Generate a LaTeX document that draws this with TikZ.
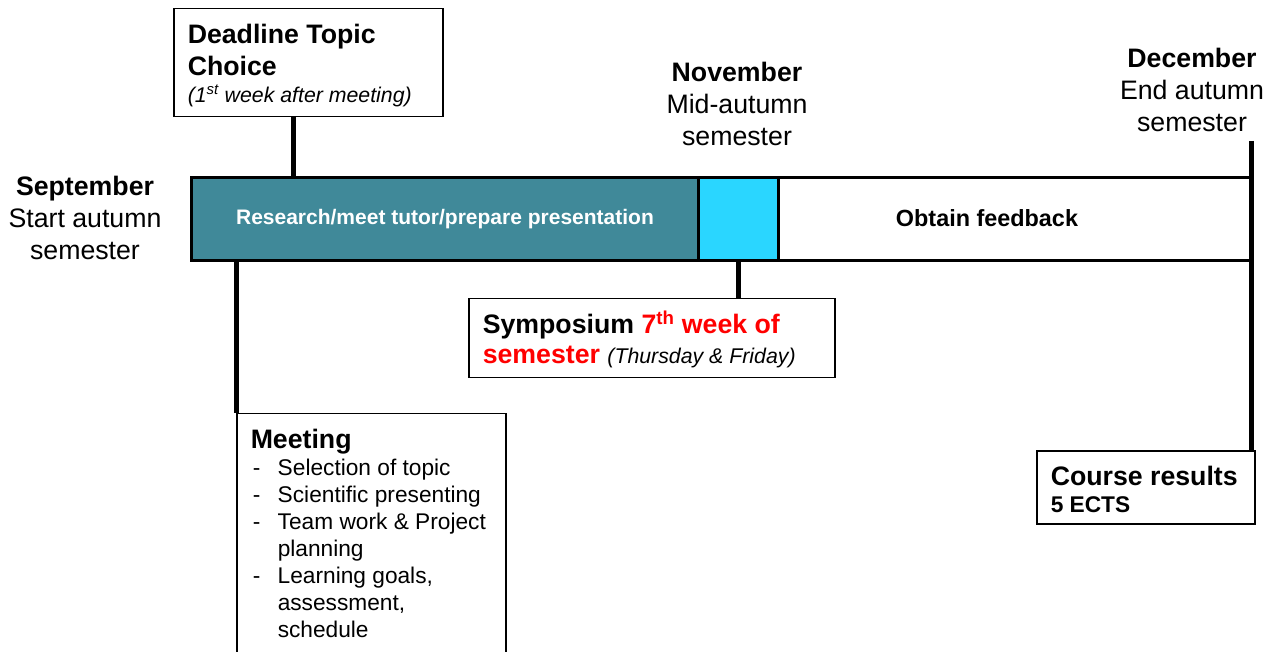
\documentclass[tikz,border=0pt]{standalone}
\usepackage{fontspec}
\setmainfont{Liberation Sans}
\definecolor{teal1}{RGB}{64,137,153}
\definecolor{cyan1}{RGB}{42,214,255}
\definecolor{red1}{RGB}{255,0,0}
\begin{document}
\begin{tikzpicture}[x=1pt,y=-1pt,
  box/.style={draw=black, line width=1.5pt, fill=white, anchor=north west, inner xsep=14pt},
  seg/.style={draw=black, line width=3pt, anchor=north west, minimum height=83pt, inner sep=0pt},
  conn/.style={line width=5pt},
  month/.style={align=center, inner sep=0pt, font=\fontsize{26.7}{32}\selectfont},
  bartext/.style={inner sep=0pt, font=\bfseries}
]
\useasboundingbox (0,0) rectangle (1278,652);

% bar segments
\node[seg, fill=teal1, minimum width=507pt] (research) at (190,176) {};
\node[seg, fill=cyan1, minimum width=80pt] (sym) at (697,176) {};
\node[seg, fill=white, minimum width=474pt] (feedback) at (777,176) {};
\node[bartext, text=white] (restext) at (research.center) {\fontsize{21}{25}\selectfont Research/meet tutor/prepare presentation};
\node[bartext] (fbtext) at (987,218) {\fontsize{23.4}{27}\selectfont Obtain feedback};

% month labels
\node[month] (sept) at (85,218) {\textbf{September}\\Start autumn\\semester};
\node[month] (nov) at (737,104) {\textbf{November}\\Mid-autumn\\semester};
\node[month] (dec) at (1192,90) {\textbf{December}\\End autumn\\semester};

% boxes
\node[box, inner ysep=15pt] (deadline) at (173,8)
  {\parbox[t][78pt][t]{241pt}{\raggedright\fontsize{26.7}{32}\selectfont
   \textbf{Deadline Topic}\\ \textbf{Choice}\par
   {\itshape\fontsize{21.3}{27}\selectfont (1\textsuperscript{st} week after meeting)\par}}};

\node[box, inner ysep=15pt] (meeting) at (236,413)
  {\parbox[t][250pt][t]{241pt}{\raggedright\fontsize{22.7}{27}\selectfont
   {\fontsize{26.7}{27}\selectfont\bfseries Meeting}\\
   \hspace*{2pt}\makebox[25pt][l]{-}Selection of topic\\
   \hspace*{2pt}\makebox[25pt][l]{-}Scientific presenting\\
   \hspace*{2pt}\makebox[25pt][l]{-}Team work \& Project\\
   \hspace*{27pt}planning\\
   \hspace*{2pt}\makebox[25pt][l]{-}Learning goals,\\
   \hspace*{27pt}assessment,\\
   \hspace*{27pt}schedule}};

\node[box, inner ysep=12pt] (symp) at (468,298)
  {\parbox[t][55pt][t]{338pt}{\raggedright\fontsize{26.7}{30}\selectfont\bfseries
   Symposium \textcolor{red1}{7\textsuperscript{th} week of}\\
   \textcolor{red1}{semester} {\mdseries\itshape\fontsize{21.3}{30}\selectfont (Thursday \& Friday)}}};

\node[box, inner ysep=15pt] (course) at (1036,450)
  {\parbox[t][43pt][t]{190pt}{\raggedright\fontsize{26.7}{27}\selectfont\bfseries
   Course results\\ {\fontsize{22.7}{27}\selectfont 5 ECTS}}};

% connectors
\coordinate (dlx) at (293,176);
\draw[conn] (dlx |- deadline.south) -- (dlx);
\draw[conn] (meeting.north west) -- (meeting.north west |- research.south);
\draw[conn] (sym.south) -- (sym.south |- symp.north);
\coordinate (dectop) at (1251,141);
\draw[conn] (dectop) -- (dectop |- course.north);
\end{tikzpicture}
\end{document}
